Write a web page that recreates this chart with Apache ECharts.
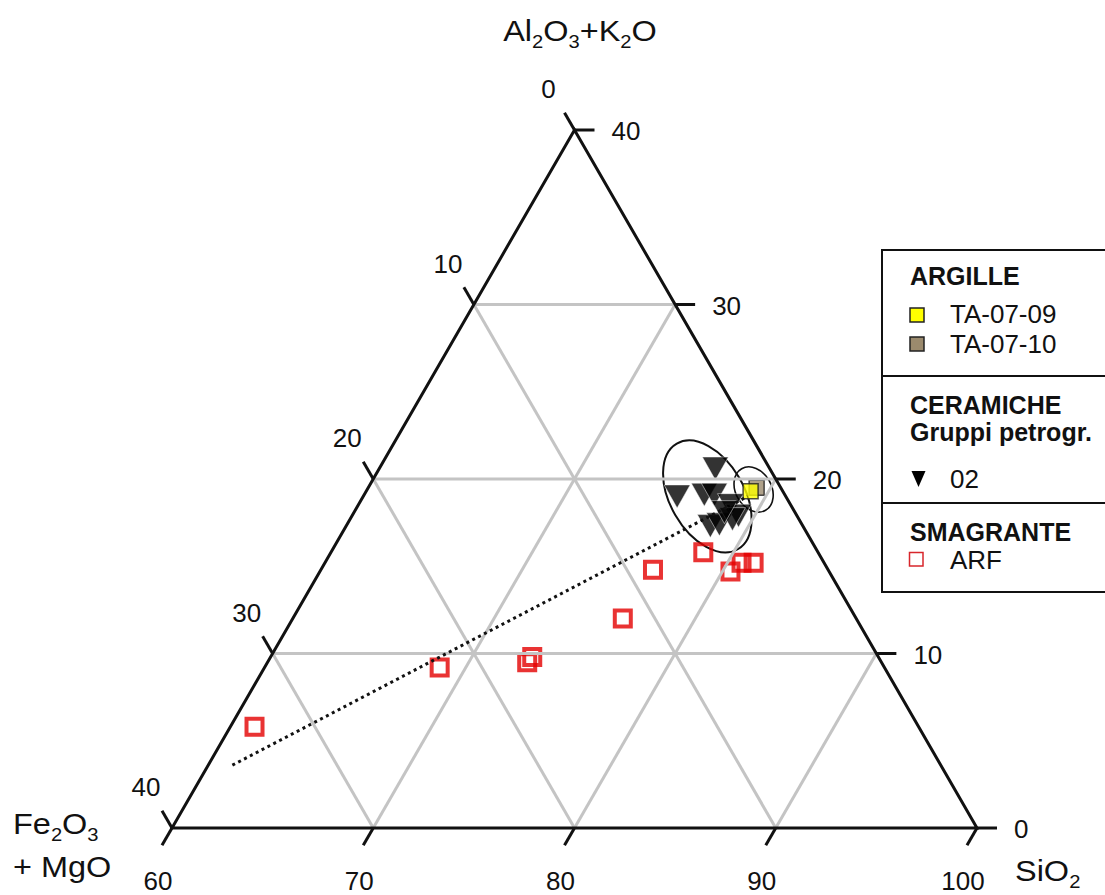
<!DOCTYPE html>
<html lang="it">
<head>
<meta charset="utf-8">
<title>SiO2 – Al2O3+K2O – Fe2O3+MgO</title>
<script src="https://cdn.jsdelivr.net/npm/echarts@6/dist/echarts.min.js"></script>
<style>
  html, body { margin: 0; padding: 0; background: #fff; }
  #chart { width: 1105px; height: 895px; }
</style>
</head>
<body>
<div id="chart"></div>
<script>
// Ternary diagram, compositions as [SiO2, Al2O3+K2O, Fe2O3+MgO] in %,
// shown in the SiO2 60–100 % window (the other two components 0–40 %).
const feTickLabels = ['0', '10', '20', '30', '40'];
const alTickLabels = ['0', '10', '20', '30', '40'];
const siTickLabels = ['60', '70', '80', '90', '100'];
const gridSteps = [10, 20, 30];

// ARGILLE
const clayTA0709 = [[79.1, 19.3, 1.6]];
const clayTA0710 = [[79.3, 19.5, 1.2]];

// CERAMICHE, gruppo petrografico 02
const ceramics02 = [
  [76.7, 20.6, 2.7],
  [75.6, 19.0, 5.4],
  [76.9, 19.1, 4.0],
  [77.4, 19.1, 3.5],
  [78.5, 18.5, 3.0],
  [79.2, 17.9, 2.9],
  [78.1, 17.3, 4.6],
  [78.5, 17.4, 4.1],
  [79.0, 17.7, 3.3],
  [78.4, 18.1, 3.5]
];

// SMAGRANTE ARF
const temperARF = [
  [61.2, 5.8, 33.0],
  [68.7, 9.2, 22.1],
  [72.9, 9.5, 17.6],
  [73.0, 9.8, 17.2],
  [76.4, 12.0, 11.6],
  [76.5, 14.8, 8.7],
  [78.5, 15.8, 5.7],
  [80.4, 14.7, 4.9],
  [80.7, 15.2, 4.1],
  [81.3, 15.2, 3.5]
];

// mixing trend between temper and clay
const mixingTrend = [[61.2, 3.6, 35.2], [79.1, 19.0, 1.9]];

// grouping ellipses: centre composition, semi-axes (in % units), tilt (deg)
const groupCenters = [[77.1, 19.0, 3.9], [79.2, 19.4, 1.4]];
const groupSemiAxes = [[3.03, 1.84], [1.19, 0.89]];
const groupTilt = [60, 60];

// ---------------------------------------------------------------------------
const SQ3 = Math.sqrt(3);
const SPAN = 40;
// ternary composition -> cartesian (x along the SiO2 base, y towards Al2O3+K2O apex)
function toXY(c) {
  const s = c[0] - 60, a = c[1], f = c[2];
  const k = SPAN / (s + a + f);
  return [(s + a / 2) * k, a * k * SQ3 / 2];
}

const FONT = '"Liberation Sans", Arial, Helvetica, sans-serif';
const INK = '#111';

const series = [];
const lineSeries = (points, lineStyle) => ({
  type: 'line', data: points.map(toXY), symbol: 'none', silent: true,
  clip: false, animation: false, lineStyle
});

// inner grid
const gridStyle = { color: '#c4c4c4', width: 3 };
gridSteps.forEach(k => {
  series.push(lineSeries([[60, k, 40 - k], [100 - k, k, 0]], gridStyle));
  series.push(lineSeries([[60, 40 - k, k], [100 - k, 0, k]], gridStyle));
  series.push(lineSeries([[60 + k, 0, 40 - k], [60 + k, 40 - k, 0]], gridStyle));
});

// triangle outline (first edge repeated so every corner is joined)
const corners = [[60, 0, 40], [100, 0, 0], [60, 40, 0]];
series.push(lineSeries([corners[0], corners[1], corners[2], corners[0], corners[1]],
  { color: INK, width: 3, join: 'miter' }));

// dotted trend
series.push(lineSeries(mixingTrend, { color: INK, width: 3, type: [3, 3.6] }));

// samples
series.push({
  type: 'scatter', name: 'ARF', data: temperARF.map(toXY), symbol: 'rect', symbolSize: 16,
  itemStyle: { color: 'rgba(255,255,255,0)', borderColor: '#e30000', borderWidth: 4 },
  silent: true, animation: false
});
series.push({
  type: 'scatter', name: '02', data: ceramics02.map(toXY), symbol: 'triangle',
  symbolRotate: 180, symbolSize: [26, 23],
  itemStyle: { color: '#000', borderColor: '#fff', borderWidth: 0.6 },
  silent: true, animation: false
});
series.push({
  type: 'scatter', name: 'TA-07-10', data: clayTA0710.map(toXY), symbol: 'rect', symbolSize: 15,
  itemStyle: { color: '#9b8a6d', borderColor: '#222', borderWidth: 1.5 },
  silent: true, animation: false
});
series.push({
  type: 'scatter', name: 'TA-07-09', data: clayTA0709.map(toXY), symbol: 'rect', symbolSize: 15,
  itemStyle: { color: '#ffff00', borderColor: '#222', borderWidth: 1.5 },
  silent: true, animation: false
});

// grouping ellipses
series.push({
  type: 'custom', coordinateSystem: 'cartesian2d', silent: true, animation: false,
  data: groupCenters.map(toXY), encode: { x: 0, y: 1 },
  renderItem(params, api) {
    const i = params.dataIndex;
    const c = api.coord([api.value(0), api.value(1)]);
    const unit = api.size([1, 1])[0];
    return {
      type: 'ellipse', x: c[0], y: c[1], rotation: -groupTilt[i] * Math.PI / 180,
      shape: { cx: 0, cy: 0, rx: groupSemiAxes[i][0] * unit, ry: groupSemiAxes[i][1] * unit },
      style: { fill: 'none', stroke: INK, lineWidth: i === 0 ? 2 : 1.6 }
    };
  }
});

// ticks and tick labels on the three sides
const tickItems = [
  ...feTickLabels.map(t => ({ side: 'left', text: t, at: [60, 40 - +t, +t] })),
  ...alTickLabels.map(t => ({ side: 'right', text: t, at: [100 - +t, +t, 0] })),
  ...siTickLabels.map(t => ({ side: 'bottom', text: t, at: [+t, 0, 100 - +t] }))
];
const tickDir = { left: [-0.5, -SQ3 / 2], right: [1, 0], bottom: [-0.5, SQ3 / 2] };
const labelPlace = {
  left: { dx: -26, dy: -41, align: 'center' },
  right: { dx: 37, dy: 1, align: 'left' },
  bottom: { dx: -14, dy: 53, align: 'center' }
};
const TICK_LEN = 20;
series.push({
  type: 'custom', coordinateSystem: 'cartesian2d', silent: true, animation: false,
  data: tickItems.map(t => toXY(t.at)), encode: { x: 0, y: 1 },
  renderItem(params, api) {
    const t = tickItems[params.dataIndex];
    const p = api.coord([api.value(0), api.value(1)]);
    const d = tickDir[t.side], lp = labelPlace[t.side];
    return {
      type: 'group',
      children: [
        {
          type: 'line',
          shape: { x1: p[0], y1: p[1], x2: p[0] + d[0] * TICK_LEN, y2: p[1] + d[1] * TICK_LEN },
          style: { stroke: INK, lineWidth: 3 }
        },
        {
          type: 'text', x: p[0] + lp.dx, y: p[1] + lp.dy,
          style: {
            text: t.text, fill: INK, fontSize: 26, fontFamily: FONT,
            align: lp.align, verticalAlign: 'middle'
          }
        }
      ]
    };
  }
});

// axis titles with lowered subscripts
const titleRich = {
  m: { fontSize: 29, fontFamily: FONT, fill: INK, lineHeight: 30, verticalAlign: 'middle' },
  s: { fontSize: 18, fontFamily: FONT, fill: INK, height: 8, lineHeight: 8, verticalAlign: 'bottom' }
};
const titleText = (text, x, y, align) => ({
  type: 'text', x, y, scaleX: 1.12, silent: true,
  style: { text, rich: titleRich, align, verticalAlign: 'middle', fill: INK }
});

// legend box
const legendText = (text, x, y, bold) => ({
  type: 'text', x, y, silent: true,
  style: {
    text, fill: INK, fontSize: bold ? 25 : 26, fontFamily: FONT, fontWeight: bold ? 'bold' : 'normal',
    align: 'left', verticalAlign: 'middle'
  }
});
const legendGraphics = [
  { type: 'rect', shape: { x: 882, y: 250, width: 260, height: 342 },
    style: { fill: '#fff', stroke: INK, lineWidth: 2 }, silent: true },
  { type: 'line', shape: { x1: 882, y1: 376, x2: 1105, y2: 376 }, style: { stroke: INK, lineWidth: 2 }, silent: true },
  { type: 'line', shape: { x1: 882, y1: 503, x2: 1105, y2: 503 }, style: { stroke: INK, lineWidth: 2 }, silent: true },
  legendText('ARGILLE', 910, 276, true),
  { type: 'rect', shape: { x: 910, y: 308, width: 14, height: 14 },
    style: { fill: '#ffff00', stroke: '#222', lineWidth: 1.5 }, silent: true },
  legendText('TA-07-09', 950, 314),
  { type: 'rect', shape: { x: 910, y: 337, width: 14, height: 14 },
    style: { fill: '#9b8a6d', stroke: '#222', lineWidth: 1.5 }, silent: true },
  legendText('TA-07-10', 950, 344),
  legendText('CERAMICHE', 910, 405, true),
  legendText('Gruppi petrogr.', 910, 432, true),
  { type: 'polygon', shape: { points: [[911.5, 471], [925.5, 471], [918.5, 487]] },
    style: { fill: '#000' }, silent: true },
  legendText('02', 950, 479),
  legendText('SMAGRANTE', 910, 532, true),
  { type: 'rect', shape: { x: 909.5, y: 552.5, width: 13.5, height: 13.5 },
    style: { fill: 'none', stroke: '#d8262b', lineWidth: 1.5 }, silent: true },
  legendText('ARF', 950, 560)
];

const chart = echarts.init(document.getElementById('chart'), null, { renderer: 'svg' });
chart.setOption({
  animation: false,
  backgroundColor: '#fff',
  grid: { left: 172, top: 130, width: 805, height: 698, containLabel: false, outerBoundsMode: 'none' },
  xAxis: { type: 'value', min: 0, max: SPAN, show: false },
  yAxis: { type: 'value', min: 0, max: SPAN * SQ3 / 2, show: false },
  series,
  graphic: [
    titleText('{m|Al}{s|2}{m|O}{s|3}{m|+K}{s|2}{m|O}', 580, 31, 'center'),
    titleText('{m|Fe}{s|2}{m|O}{s|3}', 13, 824, 'left'),
    titleText('{m|+ MgO}', 13, 867, 'left'),
    titleText('{m|SiO}{s|2}', 1015, 871, 'left'),
    ...legendGraphics
  ]
});
</script>
</body>
</html>
